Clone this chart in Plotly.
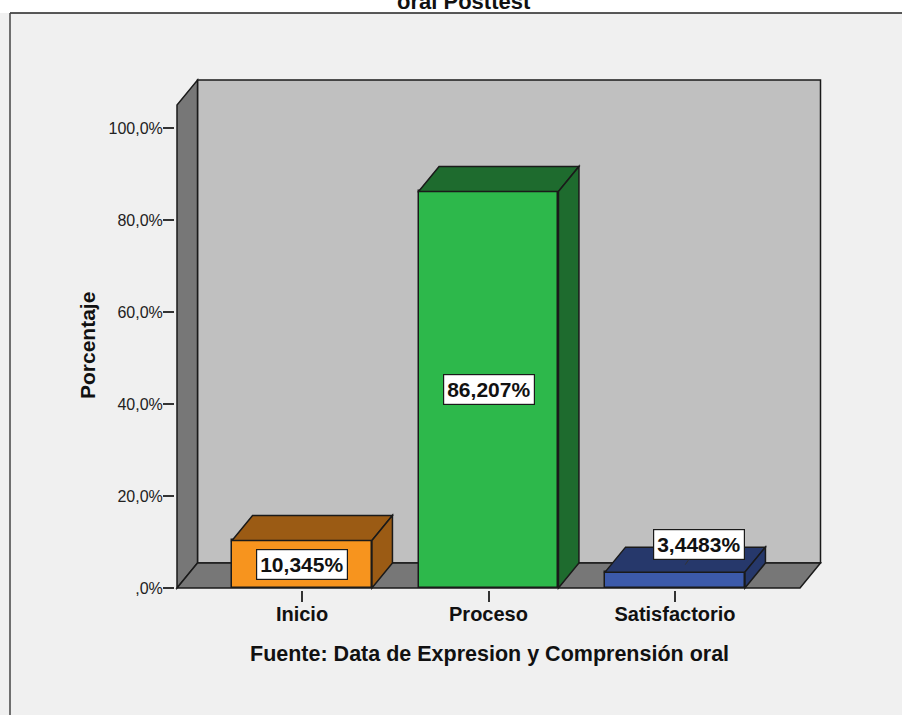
import plotly.graph_objects as go

# ---- data -------------------------------------------------------------
categories = ["Inicio", "Proceso", "Satisfactorio"]
percentages = [10.345, 86.207, 3.4483]
y_tick_values = [0, 20, 40, 60, 80, 100]

front_colors = ["#F7941E", "#2DB84B", "#3C5AAA"]
dark_colors = ["#9B5B14", "#1E6B2E", "#26386B"]

# ---- page geometry (pixels) ------------------------------------------
W, H = 902, 715
PX_PER_CAT = 186.5          # horizontal pixels per category step
CAT0_PX = 302               # pixel position of first category
PX_PER_PCT = 4.6            # vertical pixels per percent
ZERO_PX = 588               # pixel row of 0 %
PLOT_L, PLOT_R, PLOT_T, PLOT_B = 175, 823, 76, 590

x_lo = (PLOT_L - CAT0_PX) / PX_PER_CAT
x_hi = (PLOT_R - CAT0_PX) / PX_PER_CAT
y_lo = -(PLOT_B - ZERO_PX) / PX_PER_PCT
y_hi = (ZERO_PX - PLOT_T) / PX_PER_PCT

# 3-D depth offsets converted to data units
DX = 20.5 / PX_PER_CAT
DY = 25 / PX_PER_PCT
BAR_W = 0.75
WALL_TOP = 105
FLOOR_L = (177 - CAT0_PX) / PX_PER_CAT
FLOOR_R = (800 - CAT0_PX) / PX_PER_CAT

EDGE = "#1a1a1a"
FONT = "Liberation Sans, Arial, sans-serif"


def paper_x(px):
    return (px - PLOT_L) / (PLOT_R - PLOT_L)


def paper_y(py):
    return (PLOT_B - py) / (PLOT_B - PLOT_T)


def poly(points):
    return "M " + " L ".join(f"{x},{y}" for x, y in points) + " Z"


def fmt_pct(v, decimals=None):
    s = f"{v:.{decimals}f}" if decimals is not None else f"{v:g}"
    s = s.replace(".", ",")
    if s.startswith("0,"):
        s = s[1:]
    return s + "%"


fig = go.Figure()

# front faces of the bars
fig.add_trace(go.Bar(
    x=list(range(len(categories))),
    y=percentages,
    width=BAR_W,
    marker=dict(color=front_colors, line=dict(color=EDGE, width=1.5)),
    hoverinfo="skip",
))

shapes = []

# chart frame: white strip at the top, rule lines
shapes.append(dict(type="rect", xref="paper", yref="paper",
                   x0=paper_x(0), x1=paper_x(W), y0=paper_y(13), y1=paper_y(-5),
                   fillcolor="white", line=dict(width=0), layer="below"))
shapes.append(dict(type="line", xref="paper", yref="paper",
                   x0=paper_x(10), x1=paper_x(W), y0=paper_y(13), y1=paper_y(13),
                   line=dict(color="#222", width=1.5)))
shapes.append(dict(type="line", xref="paper", yref="paper",
                   x0=paper_x(10), x1=paper_x(10), y0=paper_y(13), y1=paper_y(H),
                   line=dict(color="#444", width=1.5)))

wall_line = dict(color=EDGE, width=1.5)
# back wall
shapes.append(dict(type="path", xref="x", yref="y", layer="below",
                   path=poly([(FLOOR_L + DX, DY), (FLOOR_R + DX, DY),
                              (FLOOR_R + DX, WALL_TOP + DY), (FLOOR_L + DX, WALL_TOP + DY)]),
                   fillcolor="#C0C0C0", line=wall_line))
# left wall
shapes.append(dict(type="path", xref="x", yref="y", layer="below",
                   path=poly([(FLOOR_L, 0), (FLOOR_L + DX, DY),
                              (FLOOR_L + DX, WALL_TOP + DY), (FLOOR_L, WALL_TOP)]),
                   fillcolor="#777777", line=wall_line))
# floor
shapes.append(dict(type="path", xref="x", yref="y", layer="below",
                   path=poly([(FLOOR_L, 0), (FLOOR_R, 0),
                              (FLOOR_R + DX, DY), (FLOOR_L + DX, DY)]),
                   fillcolor="#777777", line=wall_line))

# top and side faces of each bar
for i, (v, dc) in enumerate(zip(percentages, dark_colors)):
    xl, xr = i - BAR_W / 2, i + BAR_W / 2
    shapes.append(dict(type="path", xref="x", yref="y", layer="above",
                       path=poly([(xl, v), (xl + DX, v + DY), (xr + DX, v + DY), (xr, v)]),
                       fillcolor=dc, line=dict(color=EDGE, width=1.5)))
    shapes.append(dict(type="path", xref="x", yref="y", layer="above",
                       path=poly([(xr, 0), (xr, v), (xr + DX, v + DY), (xr + DX, DY)]),
                       fillcolor=dc, line=dict(color=EDGE, width=1.5)))

annotations = []
label_font = dict(family=FONT, size=21, color="#111", weight="bold")
for i, v in enumerate(percentages):
    if v > 8:
        annotations.append(dict(x=i, y=v / 2, xref="x", yref="y", text=fmt_pct(v),
                                showarrow=False, font=label_font, bgcolor="white",
                                xanchor="center", yanchor="middle",
                                bordercolor=EDGE, borderwidth=1.2, borderpad=3))
    else:
        annotations.append(dict(x=i + DX * 0.5, y=v + DY * 0.3, xref="x", yref="y",
                                text=fmt_pct(v), showarrow=True, arrowhead=0,
                                arrowwidth=1, arrowcolor="#333", ax=14, ay=-20,
                                font=label_font, bgcolor="white",
                                bordercolor=EDGE, borderwidth=1.2, borderpad=3))

# title (last line, running off the top of the page)
annotations.append(dict(x=paper_x(464), y=paper_y(1), xref="paper", yref="paper",
                        text="oral Posttest", showarrow=False,
                        xanchor="center", yanchor="middle",
                        font=dict(family=FONT, size=22, color="#111", weight="bold")))
# axis titles
annotations.append(dict(x=paper_x(87), y=paper_y(346), xref="paper", yref="paper",
                        text="Porcentaje", textangle=-90, showarrow=False,
                        xanchor="center", yanchor="middle",
                        font=dict(family=FONT, size=21, color="#111", weight="bold")))
annotations.append(dict(x=paper_x(489), y=paper_y(654), xref="paper", yref="paper",
                        text="Fuente: Data de Expresion y Comprensión oral", showarrow=False,
                        xanchor="center", yanchor="middle",
                        font=dict(family=FONT, size=21.5, color="#111", weight="bold")))

fig.update_layout(
    width=W, height=H,
    margin=dict(l=PLOT_L, r=W - PLOT_R, t=PLOT_T, b=H - PLOT_B, autoexpand=False),
    paper_bgcolor="#F0F0F0",
    plot_bgcolor="rgba(0,0,0,0)",
    showlegend=False,
    shapes=shapes,
    annotations=annotations,
    bargap=0,
)
fig.update_xaxes(range=[x_lo, x_hi], tickvals=list(range(len(categories))),
                 ticktext=categories, ticks="outside", ticklen=11, tickwidth=1.5,
                 tickcolor="#333", showgrid=False, zeroline=False, showline=False,
                 ticklabelstandoff=-5,
                 tickfont=dict(family=FONT, size=20, color="#111", weight="bold"),
                 fixedrange=True)
fig.update_yaxes(range=[y_lo, y_hi], tickvals=y_tick_values,
                 ticktext=[fmt_pct(v, 1) for v in y_tick_values],
                 ticks="outside", ticklen=11, tickwidth=1.5, tickcolor="#333",
                 showgrid=False, zeroline=False, showline=False,
                 ticklabelstandoff=-3,
                 tickfont=dict(family=FONT, size=16, color="#222"), fixedrange=True)

fig.write_html("out.html")
